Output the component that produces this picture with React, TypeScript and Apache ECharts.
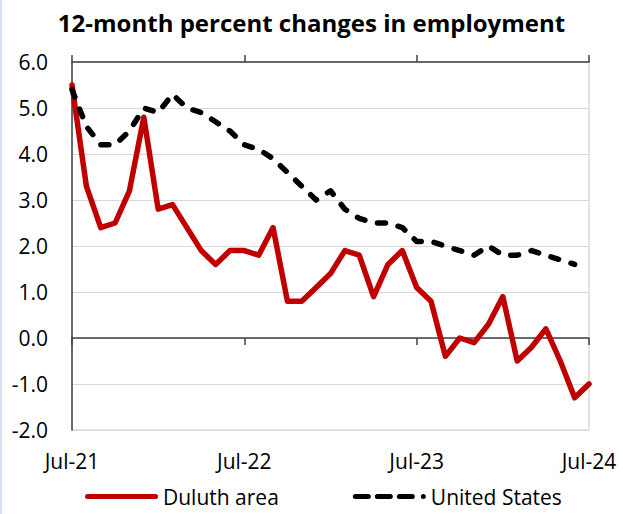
import React, { useEffect, useRef } from "react";
import * as echarts from "echarts";

const months = [
  "Jul-21", "Aug-21", "Sep-21", "Oct-21", "Nov-21", "Dec-21",
  "Jan-22", "Feb-22", "Mar-22", "Apr-22", "May-22", "Jun-22",
  "Jul-22", "Aug-22", "Sep-22", "Oct-22", "Nov-22", "Dec-22",
  "Jan-23", "Feb-23", "Mar-23", "Apr-23", "May-23", "Jun-23",
  "Jul-23", "Aug-23", "Sep-23", "Oct-23", "Nov-23", "Dec-23",
  "Jan-24", "Feb-24", "Mar-24", "Apr-24", "May-24", "Jun-24",
  "Jul-24",
];

const duluth = [
  5.5, 3.3, 2.4, 2.5, 3.2, 4.8,
  2.8, 2.9, 2.4, 1.9, 1.6, 1.9,
  1.9, 1.8, 2.4, 0.8, 0.8, 1.1,
  1.4, 1.9, 1.8, 0.9, 1.6, 1.9,
  1.1, 0.8, -0.4, 0.0, -0.1, 0.3,
  0.9, -0.5, -0.2, 0.2, -0.5, -1.3,
  -1.0,
];

const unitedStates = [
  5.4, 4.6, 4.2, 4.2, 4.5, 5.0,
  4.9, 5.3, 5.0, 4.9, 4.7, 4.5,
  4.2, 4.1, 3.9, 3.6, 3.3, 3.0,
  3.2, 2.8, 2.6, 2.5, 2.5, 2.4,
  2.1, 2.1, 2.0, 1.9, 1.8, 2.0,
  1.8, 1.8, 1.9, 1.8, 1.7, 1.6,
  null,
];

const yTicks = { min: -2, max: 6, interval: 1 };

const FONT = "'Open Sans', 'Noto Sans', sans-serif";

const SOLID_ICON = "path://M2.5,0H70.5A2.5,2.5,0,0,1,70.5,5H2.5A2.5,2.5,0,0,1,2.5,0Z";
const DASH_ICON =
  "path://M2.5,0H15.5A2.5,2.5,0,0,1,15.5,5H2.5A2.5,2.5,0,0,1,2.5,0Z" +
  "M24.5,0H37.5A2.5,2.5,0,0,1,37.5,5H24.5A2.5,2.5,0,0,1,24.5,0Z" +
  "M46.5,0H59.5A2.5,2.5,0,0,1,59.5,5H46.5A2.5,2.5,0,0,1,46.5,0Z" +
  "M70.5,0A2.5,2.5,0,0,1,70.5,5A2.5,2.5,0,0,1,70.5,0Z";

export default function App() {
  const ref = useRef<HTMLDivElement>(null);

  useEffect(() => {
    if (!ref.current) return;
    const chart = echarts.init(ref.current, null, { renderer: "svg" });
    const zeroAxisCommon = {
      type: "category" as const,
      data: months,
      boundaryGap: false,
      axisLine: { show: true, onZero: true, lineStyle: { color: "#404040", width: 1.5 } },
      axisTick: { show: true, interval: 11, length: 7, lineStyle: { color: "#404040", width: 1.5 } },
      axisLabel: { show: false },
      splitLine: { show: false },
    };
    chart.setOption({
      animation: false,
      backgroundColor: "#ffffff",
      textStyle: { fontFamily: FONT },
      title: {
        text: "12-month percent changes in employment",
        left: "center",
        top: 5,
        textStyle: { fontFamily: FONT, fontSize: 24, fontWeight: "bold", color: "#000" },
      },
      grid: {
        left: 72,
        right: 34,
        top: 62,
        bottom: 84,
        show: true,
        borderColor: "#c8c8c8",
        borderWidth: 1,
        containLabel: false,
      },
      legend: {
        bottom: 2,
        left: 80,
        itemWidth: 73,
        itemHeight: 5,
        itemGap: 74,
        itemStyle: { borderWidth: 0 },
        textStyle: { fontFamily: FONT, fontSize: 21, color: "#000" },
        data: [
          { name: "Duluth area", icon: SOLID_ICON },
          { name: "United States", icon: DASH_ICON },
        ],
      },
      xAxis: [
        {
          type: "category",
          data: months,
          boundaryGap: false,
          position: "bottom",
          axisLine: { show: false, onZero: false },
          axisTick: { show: false },
          axisLabel: {
            interval: 11,
            margin: 20,
            fontFamily: FONT,
            fontSize: 21,
            color: "#000",
            showMaxLabel: true,
          },
          splitLine: { show: false },
        },
        { ...zeroAxisCommon, position: "bottom" },
        { ...zeroAxisCommon, position: "top" },
      ],
      yAxis: {
        type: "value",
        min: yTicks.min,
        max: yTicks.max,
        interval: yTicks.interval,
        axisLine: { show: true, lineStyle: { color: "#404040", width: 1.5 } },
        axisTick: { show: false },
        axisLabel: {
          margin: 24,
          fontFamily: FONT,
          fontSize: 21,
          color: "#000",
          formatter: (v: number) => v.toFixed(1),
        },
        splitLine: { show: true, lineStyle: { color: "#d9d9d9", width: 1 } },
      },
      series: [
        {
          name: "Duluth area",
          type: "line",
          xAxisIndex: 0,
          data: duluth,
          symbol: "none",
          showSymbol: false,
          lineStyle: { color: "#c00000", width: 5.5, join: "round", cap: "round" },
          itemStyle: { color: "#c00000", borderWidth: 0 },
          z: 3,
        },
        {
          name: "United States",
          type: "line",
          xAxisIndex: 0,
          data: unitedStates,
          symbol: "none",
          showSymbol: false,
          lineStyle: { color: "#000000", width: 5.5, type: [8, 13], cap: "round", join: "round" },
          itemStyle: { color: "#000000", borderWidth: 0 },
          z: 4,
        },
      ],
      graphic: [
        {
          type: "rect",
          left: 0,
          top: 0,
          shape: { x: 0, y: 0, width: 2, height: 514 },
          style: { fill: "#d6e0f0" },
          silent: true,
        },
      ],
    });
    return () => chart.dispose();
  }, []);

  return (
    <div
      ref={ref}
      style={{ position: "fixed", left: 0, top: 0, width: 623, height: 514 }}
    />
  );
}
